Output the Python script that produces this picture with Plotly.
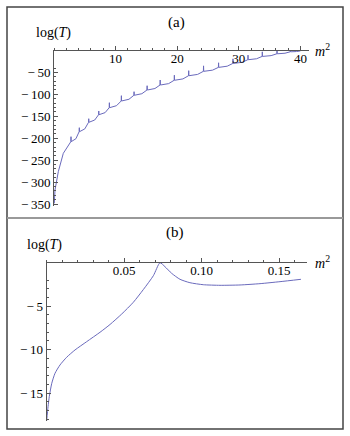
import plotly.graph_objects as go
from plotly.subplots import make_subplots

# panel (a): log(T) against m^2
# (each cusp is a narrow upward spike, the curve between cusps bends upward)
a_m2 = [0.05, 0.16, 0.70, 1.51,
        2.73, 2.76, 2.79, 3.56,
        4.08, 4.11, 4.14, 5.00,
        5.61, 5.64, 5.67, 6.61,
        7.24, 7.27, 7.30, 8.30,
        8.96, 8.99, 9.02, 10.15,
        10.91, 10.94, 10.97, 12.17,
        12.97, 13.00, 13.03, 14.27,
        15.09, 15.12, 15.15, 16.39,
        17.21, 17.24, 17.27, 18.61,
        19.51, 19.54, 19.57, 20.93,
        21.84, 21.87, 21.90, 23.31,
        24.25, 24.28, 24.31, 25.74,
        26.69, 26.72, 26.75, 28.12,
        29.03, 29.06, 29.09, 30.52,
        31.47, 31.50, 31.53, 32.89,
        33.79, 33.82, 33.85, 35.25,
        36.18, 36.21, 36.24, 37.50,
        38.34, 38.37, 38.40, 39.36,
        40.0]
a_logT = [-348.4, -318.0, -276.3, -234.4,
          -207.9, -196.5, -207.9, -201.1,
          -185.1, -176.0, -185.1, -178.7,
          -163.7, -155.5, -163.7, -158.5,
          -146.4, -137.9, -146.4, -141.6,
          -130.4, -119.0, -130.4, -125.8,
          -115.1, -103.0, -115.1, -111.2,
          -102.1, -93.9, -102.1, -98.5,
          -90.1, -80.3, -90.1, -86.7,
          -78.7, -67.3, -78.7, -75.5,
          -67.9, -56.3, -67.9, -64.8,
          -57.5, -46.0, -57.5, -54.5,
          -47.5, -35.0, -47.5, -44.8,
          -38.5, -28.0, -38.5, -35.8,
          -29.5, -19.0, -29.5, -27.0,
          -21.0, -10.5, -21.0, -18.8,
          -13.5, -3.0, -13.5, -11.7,
          -7.5, 0.0, -7.5, -6.2,
          -3.0, 0.0, -3.0, -2.4,
          -1.0]

# panel (b)
b_m2 = [0.0001, 0.001, 0.0018, 0.0034, 0.0055, 0.0087, 0.013, 0.0184, 0.0259,
        0.0345, 0.041, 0.0485, 0.056, 0.0624, 0.0689, 0.0732, 0.0764, 0.0807,
        0.0861, 0.0925, 0.1011, 0.1119, 0.1248, 0.1377, 0.1506, 0.1641]
b_logT = [-18.16, -16.55, -15.4, -13.86, -12.71, -11.76, -10.87, -10.03, -9.08,
          -8.0, -7.1, -5.9, -4.55, -3.1, -1.5, 0.0, -0.46, -1.22,
          -1.91, -2.30, -2.53, -2.60, -2.56, -2.41, -2.18, -1.91]

a_xticks = [10, 20, 30, 40]
a_yticks = [-350, -300, -250, -200, -150, -100, -50]
b_xticks = [0.05, 0.10, 0.15]
b_xlabels = ["0.05", "0.10", "0.15"]
b_yticks = [-15, -10, -5]

W, H = 350, 436
line_col = "#6a6abc"
axis_col = "#555555"
font = "Liberation Serif, Times New Roman, serif"


def neg(v):
    # Mathematica style minus with a thin gap
    return "\u2212\u2009" + str(abs(v))


fig = make_subplots(rows=2, cols=1)
fig.add_trace(go.Scatter(x=a_m2, y=a_logT, mode="lines",
                         line=dict(color=line_col, width=1, simplify=False)), row=1, col=1)
fig.add_trace(go.Scatter(x=b_m2, y=b_logT, mode="lines", line_shape="spline",
                         line=dict(color=line_col, width=1, smoothing=0.6)), row=2, col=1)


def px_x(p):
    return p / W


def px_y(p):
    return 1 - p / H


common = dict(showgrid=False, zeroline=False, showline=True, linecolor=axis_col,
              linewidth=1, tickcolor=axis_col, automargin=False,
              tickfont=dict(family=font, size=13, color="black"))

# x axes sit on top (at log(T)=0), ticks point up, labels below
fig.update_xaxes(common, side="top", ticks="outside", ticklen=4, ticklabelposition="inside",
                 ticklabelstandoff=3,
                 row=1, col=1, range=[0, 41.4], domain=[px_x(54), px_x(309)],
                 tickvals=a_xticks, ticktext=[str(v) for v in a_xticks],
                 minor=dict(tickmode="linear", tick0=0, dtick=2, ticklen=2, ticks="outside",
                            tickcolor=axis_col))
fig.update_yaxes(common, ticks="inside", ticklen=4, row=1, col=1,
                 range=[-354.5, 0], domain=[px_y(206), px_y(50.5)],
                 tickvals=a_yticks, ticktext=[neg(v) for v in a_yticks],
                 minor=dict(tickmode="linear", tick0=0, dtick=10, ticklen=2, ticks="inside",
                            tickcolor=axis_col))

fig.update_xaxes(common, side="top", ticks="outside", ticklen=4, ticklabelposition="inside",
                 ticklabelstandoff=3,
                 row=2, col=1, range=[0, 0.168], domain=[px_x(46.5), px_x(307)],
                 tickvals=b_xticks, ticktext=b_xlabels,
                 minor=dict(tickmode="linear", tick0=0, dtick=0.01, ticklen=2, ticks="outside",
                            tickcolor=axis_col))
fig.update_yaxes(common, ticks="inside", ticklen=4, row=2, col=1,
                 range=[-18.2, 0], domain=[px_y(421), px_y(262.7)],
                 tickvals=b_yticks, ticktext=[neg(v) for v in b_yticks],
                 minor=dict(tickmode="linear", tick0=0, dtick=1, ticklen=2, ticks="inside",
                            tickcolor=axis_col))

labels = [
    ("(a)", 176, 22, 15),
    ("log(<i>T</i>)", 53, 33, 14),
    ("<i>m</i><sup>2</sup>", 322, 50, 14),
    ("(b)", 175, 232, 15),
    ("log(<i>T</i>)", 45, 245, 14),
    ("<i>m</i><sup>2</sup>", 322, 262, 14),
]
for text, x, y, size in labels:
    fig.add_annotation(text=text, x=px_x(x), y=px_y(y), xref="paper", yref="paper",
                       showarrow=False, xanchor="center", yanchor="middle",
                       font=dict(family=font, size=size, color="black"))

# outer frame and separator between the panels
fig.add_shape(type="rect", xref="paper", yref="paper", x0=px_x(7), x1=px_x(343),
              y0=px_y(429), y1=px_y(7), line=dict(color="#444444", width=1.5))
fig.add_shape(type="line", xref="paper", yref="paper", x0=px_x(7), x1=px_x(343),
              y0=px_y(218), y1=px_y(218), line=dict(color="#999999", width=2))

fig.update_layout(width=W, height=H, margin=dict(l=0, r=0, t=0, b=0),
                  showlegend=False, plot_bgcolor="white", paper_bgcolor="white")
# page has a default 8px body margin; drop it so the figure fills the window
fig.write_html("out.html", config={"displayModeBar": False},
               post_script="document.body.style.margin='0';")
